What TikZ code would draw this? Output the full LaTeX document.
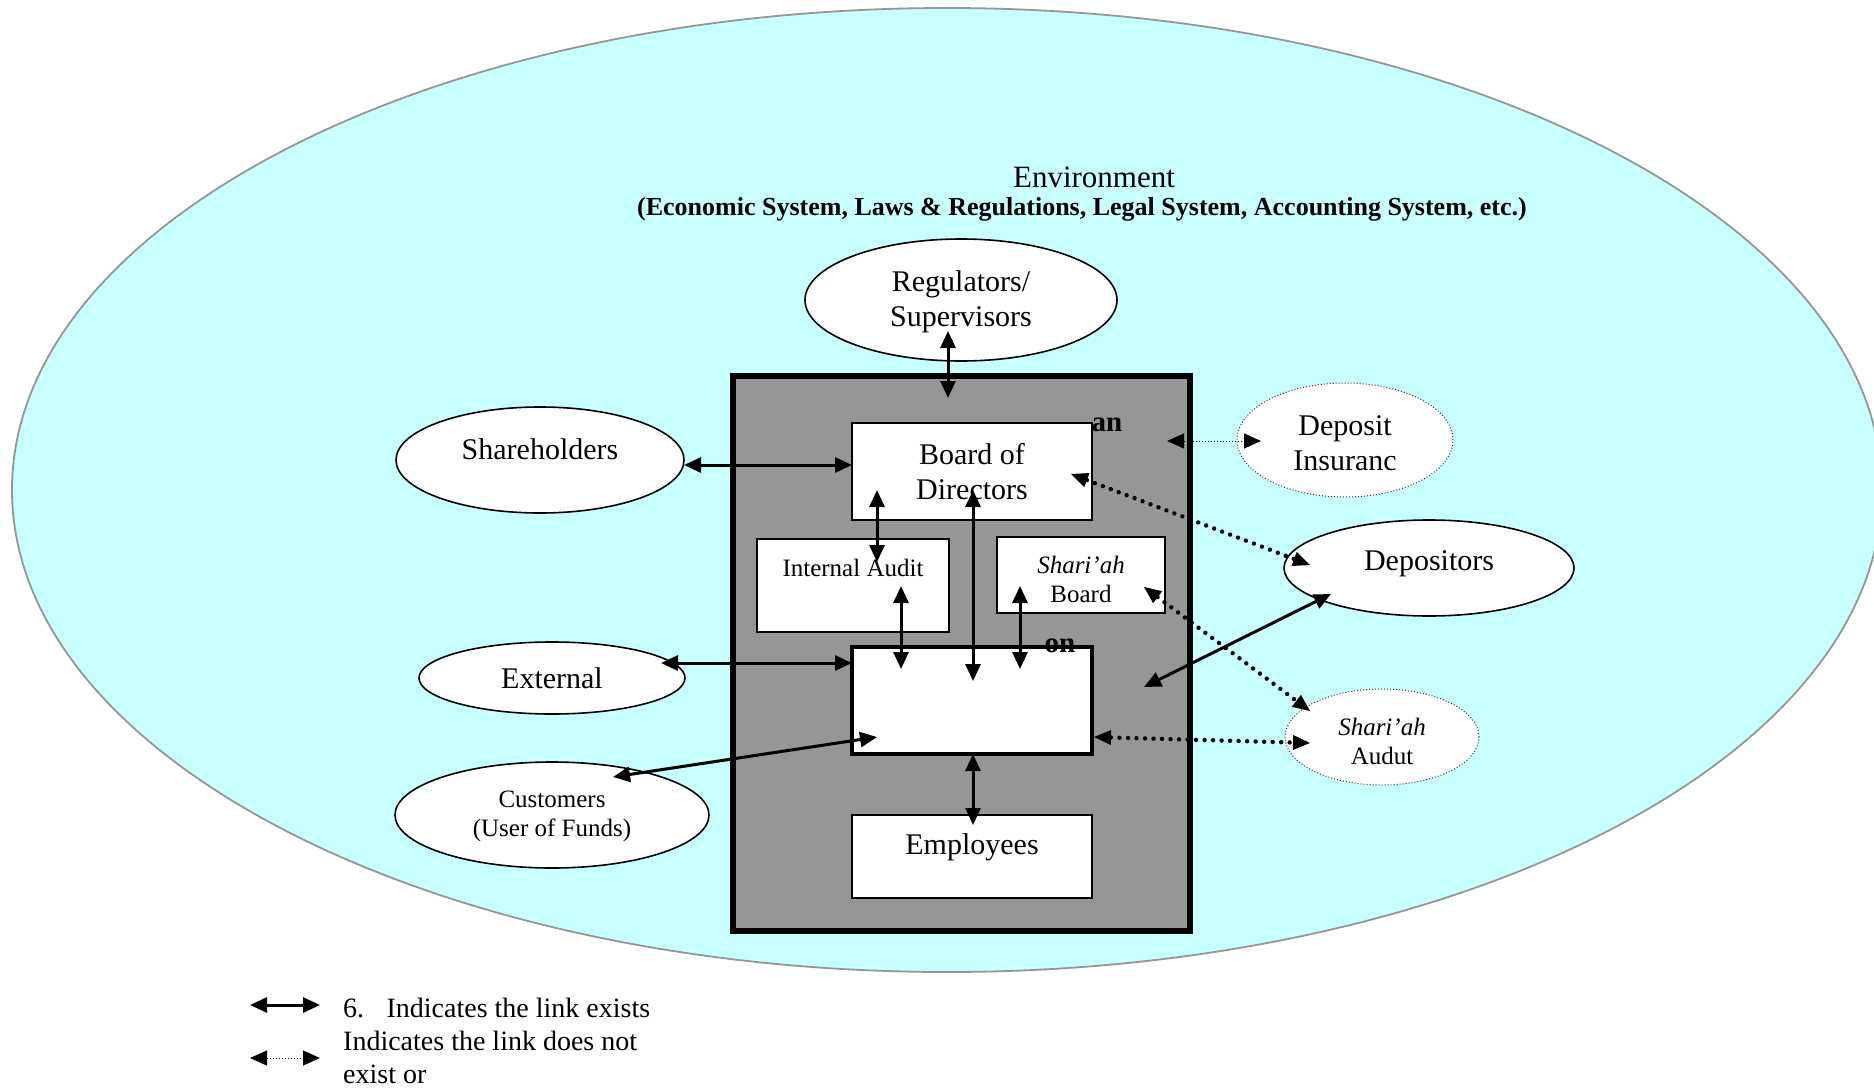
\documentclass[tikz,border=0pt]{standalone}
\usepackage{fontspec}
\setmainfont{Liberation Serif}
\usetikzlibrary{shapes.geometric,arrows.meta}
\definecolor{envcyan}{RGB}{200,255,255}
\definecolor{envline}{RGB}{150,150,150}
\definecolor{bankgray}{RGB}{150,150,150}
\begin{document}
\begin{tikzpicture}[x=1pt,y=-1pt,
  bigtext/.style={font=\fontsize{30}{35}\selectfont},
  smalltext/.style={font=\fontsize{25}{29}\selectfont},
  oval/.style={ellipse,draw=black,line width=1.6pt,fill=white,inner sep=0pt},
  dotoval/.style={ellipse,draw=black!80,line width=1pt,dotted,fill=white,inner sep=0pt},
  wbox/.style={rectangle,draw=black,line width=1.6pt,fill=white,inner sep=0pt},
  link/.style={line width=3pt,{Triangle[length=17pt,width=15pt]}-{Triangle[length=17pt,width=15pt]}},
  nolink/.style={line width=4.4pt,dash pattern=on 0.01pt off 8.5pt,line cap=round,{Triangle[length=17pt,width=15pt,line width=0pt]}-{Triangle[length=17pt,width=15pt,line width=0pt]}},
  finelink/.style={line width=1pt,dotted,{Triangle[length=17pt,width=15pt]}-{Triangle[length=17pt,width=15pt]}},
  txt/.style={inner sep=0pt,anchor=center}]
\useasboundingbox (0,0) rectangle (1874,1089);
\fill[white] (0,0) rectangle (1874,1089);
% environment
\draw[envline,fill=envcyan,line width=1.8pt] (947,490) ellipse [x radius=935,y radius=482];
\node[txt,font=\fontsize{31}{36}\selectfont] (envt) at (1094,177) {Environment};
\node[txt,font=\fontsize{26}{30}\selectfont\bfseries] (envs) at (1082,209) {(Economic System, Laws \& Regulations, Legal System, Accounting System, etc.)};
% bank
\node[rectangle,draw=black,line width=6pt,fill=bankgray,minimum width=457pt,minimum height=555pt,inner sep=0pt] (bank) at (961.5,653.5) {};
% outer ellipses
\node[oval,minimum width=312pt,minimum height=122pt] (reg) at (961,300) {};
\node[txt,bigtext,align=center] (regt) at (961,302) {Regulators/\\Supervisors};
\node[oval,minimum width=288pt,minimum height=106pt] (sh) at (540,460) {};
\node[txt,bigtext] (sht) at (540,449) {Shareholders};
\node[oval,minimum width=266pt,minimum height=72pt] (ext) at (552,678) {};
\node[txt,bigtext] (extt) at (552,678) {External};
\node[oval,minimum width=314pt,minimum height=106pt] (cus) at (552,815) {};
\node[txt,smalltext,align=center] (cust) at (552,816) {Customers\\(User of Funds)};
\node[dotoval,minimum width=216pt,minimum height=114pt] (dep) at (1345,440) {};
\node[txt,bigtext,align=center] (dept) at (1345,443) {Deposit\\Insuranc};
\node[oval,minimum width=290pt,minimum height=96pt] (dpr) at (1429,568) {};
\node[txt,bigtext] (dprt) at (1429,564) {Depositors};
\node[dotoval,minimum width=194pt,minimum height=96pt] (sa) at (1382,737) {};
\node[txt,smalltext,align=center] (sat) at (1382,741) {\textit{Shari’ah}\\Audut};
% inner boxes
\node[wbox,minimum width=240pt,minimum height=97pt] (bod) at (972,471.5) {};
\node[txt,bigtext,align=center] (bodt) at (972,472) {Board of\\Directors};
\node[wbox,minimum width=192pt,minimum height=93pt] (ia) at (853,585.5) {};
\node[txt,smalltext] (iat) at (853,568) {Internal Audit};
\node[wbox,minimum width=168pt,minimum height=76pt] (sb) at (1081,575) {};
\node[txt,smalltext,align=center] (sbt) at (1081,579) {\textit{Shari’ah}\\Board};
\node[wbox,line width=3.5pt,minimum width=240pt,minimum height=107pt] (mgmt) at (972,700.5) {};
\node[wbox,line width=2pt,minimum width=240pt,minimum height=83pt] (emp) at (972,856.5) {};
\node[txt,bigtext] (empt) at (972,847) {Employees};
\node[txt,font=\fontsize{29}{34}\selectfont\bfseries] (an) at (1107,425) {an};
\node[txt,font=\fontsize{29}{34}\selectfont\bfseries] (on) at (1060,646) {on};
% connector end points
\coordinate (r1) at (948,331);
\coordinate (r2) at (948,398);
\coordinate (s1) at (684,465);
\coordinate (s2) at (852,465);
\coordinate (b1) at (877,490);
\coordinate (b2) at (877,562);
\coordinate (i1) at (901,586);
\coordinate (i2) at (901,669);
\coordinate (b3) at (973,490);
\coordinate (m3) at (973,681);
\coordinate (q1) at (1020,586);
\coordinate (q2) at (1020,669);
\coordinate (e1) at (661,663);
\coordinate (e2) at (852,663);
\coordinate (c1) at (613,777);
\coordinate (c2) at (877,737);
\coordinate (m4) at (973,754);
\coordinate (m5) at (973,825);
\coordinate (d1) at (1144,687);
\coordinate (d2) at (1331,594);
\coordinate (o1) at (1071,474);
\coordinate (o2) at (1310,565);
\coordinate (o3) at (1144,587);
\coordinate (o4) at (1310,711);
\coordinate (o5) at (1094,737);
\coordinate (o6) at (1310,743);
\coordinate (f1) at (1167,441);
\coordinate (f2) at (1261,441);
% connectors
\draw[link] (r1) -- (r2);
\draw[link] (s1) -- (s2);
\draw[link] (b1) -- (b2);
\draw[link] (i1) -- (i2);
\draw[link] (b3) -- (m3);
\draw[link] (q1) -- (q2);
\draw[link] (e1) -- (e2);
\draw[link] (c1) -- (c2);
\draw[link] (m4) -- (m5);
\draw[link] (d1) -- (d2);
\draw[nolink] (o1) -- (o2);
\draw[nolink] (o3) -- (o4);
\draw[nolink] (o5) -- (o6);
\draw[finelink] (f1) -- (f2);
% legend
\coordinate (l1) at (250,1005);
\coordinate (l2) at (320,1005);
\coordinate (l3) at (250,1058);
\coordinate (l4) at (320,1058);
\draw[link] (l1) -- (l2);
\draw[finelink] (l3) -- (l4);
\node[anchor=west,inner sep=0pt,font=\fontsize{28}{33}\selectfont] (leg1) at (343,1008) {6.\hspace{0.8em}Indicates the link exists};
\node[anchor=west,inner sep=0pt,font=\fontsize{28}{33}\selectfont] (leg2) at (343,1041) {Indicates the link does not};
\node[anchor=west,inner sep=0pt,font=\fontsize{28}{33}\selectfont] (leg3) at (343,1074) {exist or};
\end{tikzpicture}
\end{document}
